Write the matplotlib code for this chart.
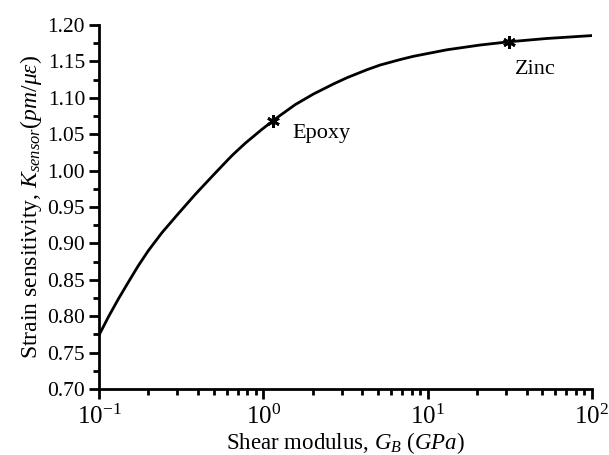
import matplotlib
matplotlib.use("Agg")
import matplotlib.pyplot as plt
from matplotlib.ticker import MultipleLocator, LogLocator, LogFormatterMathtext, FormatStrFormatter

plt.rcParams['font.family'] = ['Liberation Serif', 'DejaVu Serif']
plt.rcParams['mathtext.fontset'] = 'custom'
plt.rcParams['mathtext.rm'] = 'Liberation Serif'
plt.rcParams['mathtext.it'] = 'Liberation Serif:italic'
plt.rcParams['mathtext.bf'] = 'Liberation Serif:bold'

# Curve data (shear modulus GPa, strain sensitivity pm/microstrain)
shear_modulus = [0.1, 0.114, 0.131, 0.151, 0.173, 0.1995, 0.241, 0.304, 0.384, 0.443,
                 0.485, 0.612, 0.657, 0.775, 0.978, 1.146, 1.26, 1.56, 2.01, 2.67,
                 3.22, 4.26, 5.13, 6.79, 8.18, 13.1, 20.8, 31.3, 53.0, 100.0]
sensitivity = [0.774, 0.799, 0.8235, 0.847, 0.869, 0.890, 0.9145, 0.941, 0.967, 0.982,
               0.9915, 1.0155, 1.0225, 1.0375, 1.0565, 1.0685, 1.0755, 1.0905, 1.105, 1.119,
               1.1275, 1.1385, 1.145, 1.1525, 1.157, 1.166, 1.1725, 1.177, 1.1815, 1.1855]

# Marked materials
materials = ['Epoxy', 'Zinc']
material_g = [1.146, 31.3]
material_k = [1.0685, 1.177]

fig = plt.figure(figsize=(6.09, 4.55), dpi=100)
ax = fig.add_axes([0.1626, 0.145, 0.972 - 0.1626, 0.945 - 0.145])

ax.plot(shear_modulus, sensitivity, color='black', lw=2.0, solid_joinstyle='round')
ax.plot(material_g, material_k, linestyle='none', marker=(6, 2, 0), color='black',
        markersize=9, markeredgewidth=2.0)

ax.annotate(materials[0], (material_g[0], material_k[0]), xytext=(14, -9.5),
            textcoords='offset points', fontsize=16, ha='left', va='center')
ax.annotate(materials[1], (material_g[1], material_k[1]), xytext=(4, -20),
            textcoords='offset points', fontsize=16, ha='left', va='center')

ax.set_xscale('log')
ax.set_xlim(0.1, 100)
ax.set_ylim(0.70, 1.20)

ax.yaxis.set_major_locator(MultipleLocator(0.05))
ax.yaxis.set_minor_locator(MultipleLocator(0.025))
ax.yaxis.set_major_formatter(FormatStrFormatter('%.2f'))
ax.xaxis.set_major_locator(LogLocator(base=10, numticks=10))
ax.xaxis.set_minor_locator(LogLocator(base=10, subs=range(2, 10), numticks=20))
ax.xaxis.set_major_formatter(LogFormatterMathtext())

for s in ['top', 'right']:
    ax.spines[s].set_visible(False)
for s in ['left', 'bottom']:
    ax.spines[s].set_linewidth(2.0)

ax.tick_params(which='major', direction='out', length=7, width=2, pad=3)
ax.tick_params(which='minor', direction='out', length=4, width=2)
ax.tick_params(axis='y', labelsize=15.5)
ax.tick_params(axis='x', labelsize=18, pad=4)

ax.set_xlabel(r'Shear modulus, $G_B$ $\mathit{(GPa)}$', fontsize=16.5, labelpad=1)
ax.set_ylabel(r'Strain sensitivity, $K_{sensor}\mathit{(pm/\mu\varepsilon)}$', fontsize=17, labelpad=2)

fig.savefig('out.png', dpi=100)
